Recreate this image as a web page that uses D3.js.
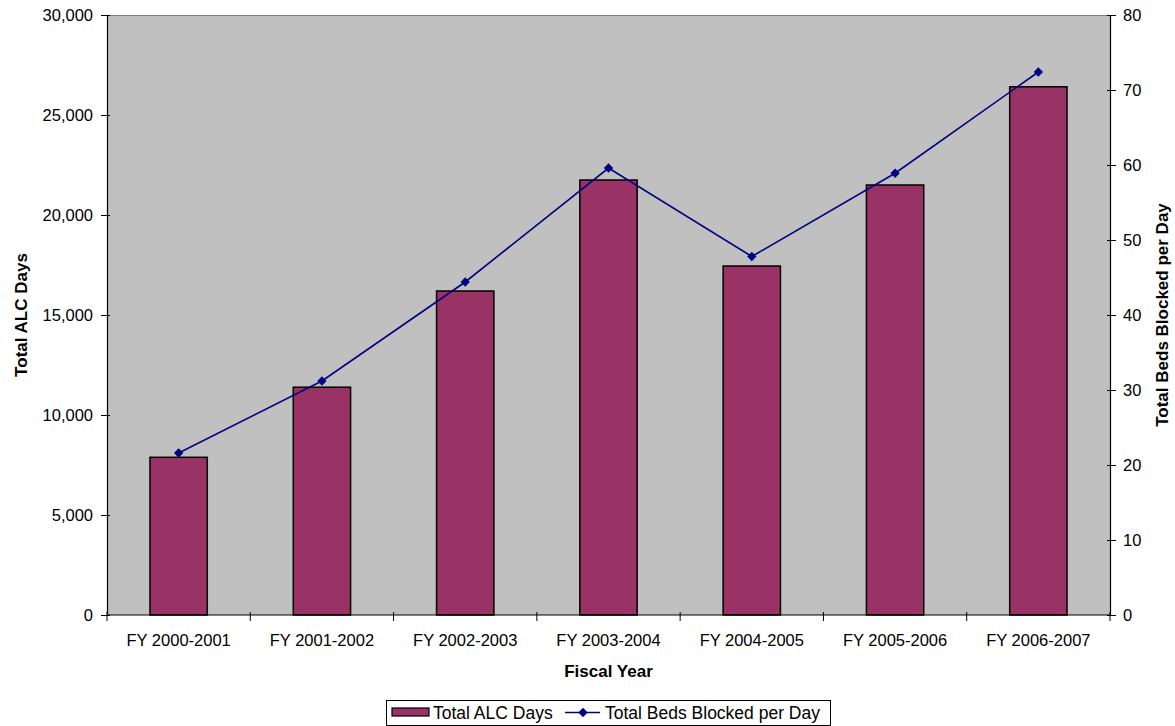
<!DOCTYPE html>
<html>
<head>
<meta charset="utf-8">
<script src="https://cdn.jsdelivr.net/npm/d3@7"></script>
<style>
  html, body { margin: 0; padding: 0; background: #fff; }
  svg { display: block; font-family: "Liberation Sans", Arial, sans-serif; }
</style>
</head>
<body>
<svg id="chart" width="1175" height="726"></svg>
<script>
// Fiscal years and the two series plotted against them
const fiscalYears = ["FY 2000-2001", "FY 2001-2002", "FY 2002-2003", "FY 2003-2004",
                     "FY 2004-2005", "FY 2005-2006", "FY 2006-2007"];
const alcDays = [7885, 11390, 16200, 21750, 17450, 21500, 26410];
const bedsBlocked = [21.6, 31.2, 44.4, 59.6, 47.8, 58.9, 72.4];
const leftTicks = [0, 5000, 10000, 15000, 20000, 25000, 30000];
const rightTicks = [0, 10, 20, 30, 40, 50, 60, 70, 80];

const FS = 16.5;      // tick and category labels
const TITLE_FS = 17;  // axis titles
const LEG_FS = 17.5;  // legend entries
const svg = d3.select("#chart");
const plot = { left: 107, right: 1110, top: 15, bottom: 615 };

const x = d3.scaleBand().domain(fiscalYears).range([plot.left, plot.right]).paddingInner(0).paddingOuter(0);
const yLeft = d3.scaleLinear().domain([0, 30000]).range([plot.bottom, plot.top]);
const yRight = d3.scaleLinear().domain([0, 80]).range([plot.bottom, plot.top]);

// plot background
svg.append("rect")
  .attr("x", plot.left).attr("y", plot.top)
  .attr("width", plot.right - plot.left).attr("height", plot.bottom - plot.top)
  .attr("fill", "#C0C0C0");
svg.append("line")
  .attr("x1", plot.left).attr("x2", plot.right)
  .attr("y1", plot.top + 0.5).attr("y2", plot.top + 0.5)
  .attr("stroke", "#808080").attr("stroke-width", 1);

// bars
const barW = x.bandwidth() * 0.4;
svg.append("g").selectAll("rect")
  .data(fiscalYears)
  .join("rect")
  .attr("x", (d) => x(d) + (x.bandwidth() - barW) / 2)
  .attr("y", (d, i) => yLeft(alcDays[i]))
  .attr("width", barW)
  .attr("height", (d, i) => yLeft(0) - yLeft(alcDays[i]))
  .attr("fill", "#993366")
  .attr("stroke", "#000")
  .attr("stroke-width", 1.5);

// line series
const pts = fiscalYears.map((d, i) => [x(d) + x.bandwidth() / 2, yRight(bedsBlocked[i])]);
svg.append("path")
  .attr("d", d3.line()(pts))
  .attr("fill", "none")
  .attr("stroke", "#000080")
  .attr("stroke-width", 1.6);
svg.append("g").selectAll("path")
  .data(pts)
  .join("path")
  .attr("transform", (p) => `translate(${p[0]},${p[1]})`)
  .attr("d", d3.symbol(d3.symbolDiamond2, 55))
  .attr("fill", "#000080");

// axes
const styleAxis = (g) => {
  g.selectAll("text").attr("font-size", FS).attr("fill", "#000")
    .attr("font-family", "'Liberation Sans', Arial, sans-serif");
  g.selectAll("line").attr("stroke", "#000");
  g.select(".domain").attr("stroke", "#000").attr("stroke-width", 1.2);
};

svg.append("g")
  .attr("transform", `translate(${plot.left},0)`)
  .call(d3.axisLeft(yLeft).tickValues(leftTicks).tickFormat(d3.format(",")).tickSize(6).tickSizeOuter(0).tickPadding(8))
  .call(styleAxis)
  .call((g) => g.selectAll(".tick line").attr("x2", -6).attr("x1", 3));

svg.append("g")
  .attr("transform", `translate(${plot.right},0)`)
  .call(d3.axisRight(yRight).tickValues(rightTicks).tickSize(6).tickSizeOuter(0).tickPadding(7))
  .call(styleAxis)
  .call((g) => g.selectAll(".tick line").attr("x2", 6).attr("x1", -3));

// category axis with ticks on band boundaries
const xAxis = svg.append("g").attr("transform", `translate(0,${plot.bottom})`);
xAxis.append("line")
  .attr("x1", plot.left).attr("x2", plot.right)
  .attr("y1", 0).attr("y2", 0)
  .attr("stroke", "#000").attr("stroke-width", 1.2);
const bounds = fiscalYears.map((d) => x(d)).concat([x.range()[1]]);
xAxis.selectAll("line.tk")
  .data(bounds)
  .join("line")
  .attr("class", "tk")
  .attr("x1", (d) => d).attr("x2", (d) => d)
  .attr("y1", -3).attr("y2", 6)
  .attr("stroke", "#000");
xAxis.selectAll("text")
  .data(fiscalYears)
  .join("text")
  .attr("x", (d) => x(d) + x.bandwidth() / 2)
  .attr("y", 31)
  .attr("text-anchor", "middle")
  .attr("font-size", FS)
  .text((d) => d);

// axis titles
svg.append("text")
  .attr("x", (plot.left + plot.right) / 2).attr("y", 677)
  .attr("text-anchor", "middle").attr("font-size", TITLE_FS).attr("font-weight", "bold")
  .text("Fiscal Year");
svg.append("text")
  .attr("transform", `translate(27,${(plot.top + plot.bottom) / 2}) rotate(-90)`)
  .attr("text-anchor", "middle").attr("font-size", TITLE_FS).attr("font-weight", "bold")
  .text("Total ALC Days");
svg.append("text")
  .attr("transform", `translate(1168,${(plot.top + plot.bottom) / 2}) rotate(-90)`)
  .attr("text-anchor", "middle").attr("font-size", TITLE_FS).attr("font-weight", "bold")
  .text("Total Beds Blocked per Day");

// legend
const legend = svg.append("g");
legend.append("rect")
  .attr("x", 386.5).attr("y", 700.5).attr("width", 444).attr("height", 25)
  .attr("fill", "#fff").attr("stroke", "#000").attr("stroke-width", 1);
legend.append("rect")
  .attr("x", 392).attr("y", 708).attr("width", 37).attr("height", 8)
  .attr("fill", "#993366").attr("stroke", "#000").attr("stroke-width", 1.2);
legend.append("text")
  .attr("x", 433).attr("y", 718.5).attr("font-size", LEG_FS).text("Total ALC Days");
legend.append("line")
  .attr("x1", 565).attr("x2", 600).attr("y1", 712.5).attr("y2", 712.5)
  .attr("stroke", "#000080").attr("stroke-width", 1.6);
legend.append("path")
  .attr("transform", "translate(583,712.5)")
  .attr("d", d3.symbol(d3.symbolDiamond2, 55))
  .attr("fill", "#000080");
legend.append("text")
  .attr("x", 605).attr("y", 718.5).attr("font-size", LEG_FS).text("Total Beds Blocked per Day");
</script>
</body>
</html>
